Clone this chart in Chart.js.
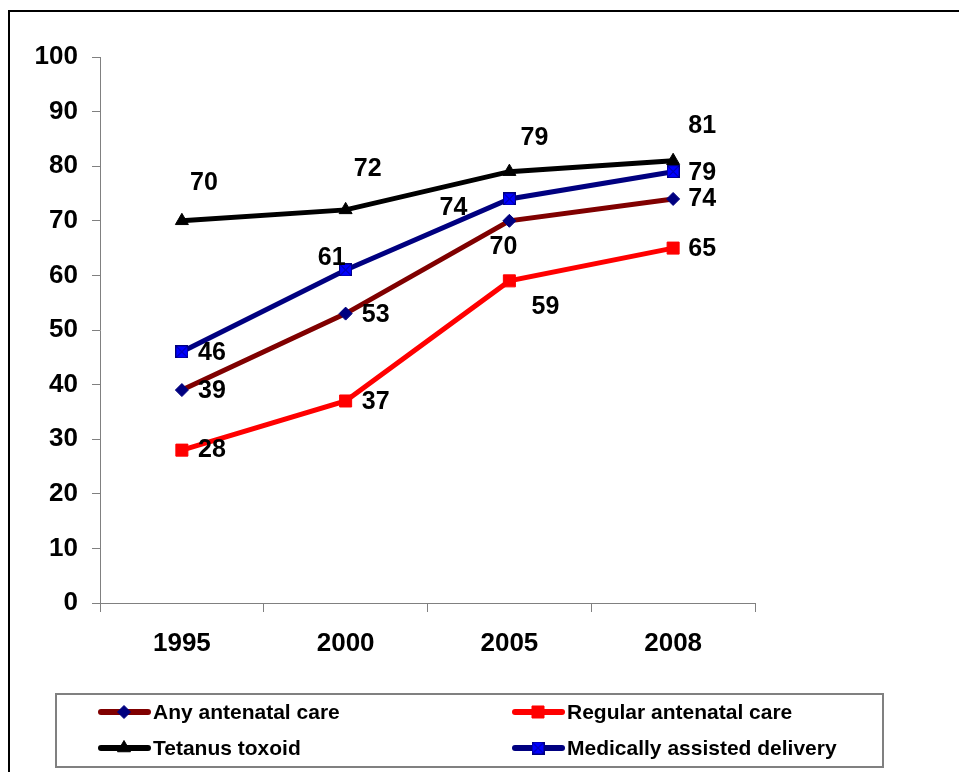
<!DOCTYPE html>
<html>
<head>
<meta charset="utf-8">
<script src="https://cdn.jsdelivr.net/npm/chart.js@4/dist/chart.umd.min.js"></script>
<style>
  html, body { margin: 0; padding: 0; background: #fff; }
  #chart { display: block; }
</style>
</head>
<body>
<canvas id="chart" width="959" height="772"></canvas>
<script>
// Survey years and coverage (%) for each maternal-health indicator
const years = ['1995', '2000', '2005', '2008'];
const anyAntenatal = [39, 53, 70, 74];
const regularAntenatal = [28, 37, 59, 65];
const tetanusToxoid = [70, 72, 79, 81];
const assistedDelivery = [46, 61, 74, 79];
const yTickValues = [0, 10, 20, 30, 40, 50, 60, 70, 80, 90, 100];

// Where each value label sits relative to its point (pixels)
const labelOffsets = [
  [[30, 0], [30, 0], [-6, 25], [29, -1]],
  [[30, -1], [30, 0], [36, 25], [29, 0]],
  [[22, -39], [22, -42], [25, -35], [29, -36]],
  [[30, 0], [-14, -13], [-56, 8], [29, 0]]
];

const FONT = '"Liberation Sans", Arial, Helvetica, sans-serif';

// Blue square marker with a dark cross
function crossedSquare(size) {
  const c = document.createElement('canvas');
  c.width = size; c.height = size;
  const g = c.getContext('2d');
  g.fillStyle = '#0000FF';
  g.fillRect(0, 0, size, size);
  g.strokeStyle = '#000080';
  g.lineWidth = 1;
  g.strokeRect(0.5, 0.5, size - 1, size - 1);
  g.beginPath();
  g.moveTo(1, 1); g.lineTo(size - 1, size - 1);
  g.moveTo(size - 1, 1); g.lineTo(1, size - 1);
  g.stroke();
  return c;
}
const deliveryMarker = crossedSquare(13);

const datasets = [
  {
    label: 'Any antenatal care', data: anyAntenatal,
    borderColor: '#800000', borderWidth: 5,
    pointStyle: 'rectRot', pointRadius: 6.5, pointBorderWidth: 1,
    pointBackgroundColor: '#000080', pointBorderColor: '#000080', order: 3
  },
  {
    label: 'Regular antenatal care', data: regularAntenatal,
    borderColor: '#FF0000', borderWidth: 5,
    pointStyle: 'rect', pointRadius: 8.5, pointBorderWidth: 1,
    pointBackgroundColor: '#FF0000', pointBorderColor: '#FF0000', order: 4
  },
  {
    label: 'Tetanus toxoid', data: tetanusToxoid,
    borderColor: '#000000', borderWidth: 5,
    pointStyle: 'triangle', pointRadius: 7.5, pointBorderWidth: 1,
    pointBackgroundColor: '#000000', pointBorderColor: '#000000', order: 2
  },
  {
    label: 'Medically assisted delivery', data: assistedDelivery,
    borderColor: '#000080', borderWidth: 5,
    pointStyle: deliveryMarker, pointRadius: 7, pointBorderWidth: 0,
    pointBackgroundColor: '#0000FF', pointBorderColor: '#000080', order: 1
  }
];
datasets.forEach(d => { d.tension = 0; d.fill = false; d.pointHoverRadius = d.pointRadius; });

// Outer frame, value labels and the boxed legend
const decorations = {
  id: 'decorations',
  beforeDraw(chart) {
    const ctx = chart.ctx;
    ctx.save();
    ctx.fillStyle = '#fff';
    ctx.fillRect(0, 0, chart.width, chart.height);
    ctx.strokeStyle = '#000';
    ctx.lineWidth = 2;
    ctx.strokeRect(9, 11, 970, 790);
    ctx.restore();
  },
  afterDatasetsDraw(chart) {
    const ctx = chart.ctx;
    ctx.save();
    ctx.font = 'bold 25px ' + FONT;
    ctx.fillStyle = '#000';
    ctx.textAlign = 'center';
    ctx.textBaseline = 'middle';
    chart.data.datasets.forEach((ds, i) => {
      const meta = chart.getDatasetMeta(i);
      meta.data.forEach((pt, j) => {
        const [dx, dy] = labelOffsets[i][j];
        ctx.fillText(String(ds.data[j]), pt.x + dx, pt.y + dy + 1);
      });
    });
    ctx.restore();
  },
  afterDraw(chart) {
    const ctx = chart.ctx;
    ctx.save();
    ctx.strokeStyle = '#808080';
    ctx.lineWidth = 2;
    ctx.strokeRect(56, 694, 827, 73);
    const cols = [98, 512];
    const rows = [712, 748];
    chart.data.datasets.forEach((ds, i) => {
      const x = cols[i % 2];
      const y = rows[Math.floor(i / 2)];
      ctx.strokeStyle = ds.borderColor;
      ctx.lineWidth = 6;
      ctx.lineCap = 'round';
      ctx.beginPath();
      ctx.moveTo(x + 3, y);
      ctx.lineTo(x + 50, y);
      ctx.stroke();
      ctx.fillStyle = ds.pointBackgroundColor;
      ctx.strokeStyle = ds.pointBorderColor;
      ctx.lineWidth = ds.pointBorderWidth || 1;
      ctx.lineCap = 'butt';
      Chart.helpers.drawPoint(ctx, {
        pointStyle: ds.pointStyle, radius: ds.pointRadius,
        rotation: 0, borderWidth: ds.pointBorderWidth
      }, x + 26, y);
      ctx.fillStyle = '#000';
      ctx.font = 'bold 21px ' + FONT;
      ctx.textAlign = 'left';
      ctx.textBaseline = 'middle';
      ctx.fillText(ds.label, x + 55, y + 1);
    });
    ctx.restore();
  }
};

new Chart(document.getElementById('chart'), {
  type: 'line',
  data: { labels: years, datasets },
  options: {
    responsive: false,
    animation: false,
    layout: { padding: { left: 0, right: 204, top: 57, bottom: 0 } },
    plugins: { legend: { display: false }, tooltip: { enabled: false } },
    scales: {
      x: {
        type: 'category',
        offset: true,
        grid: { offset: true, drawOnChartArea: false, drawTicks: true, tickLength: 9, color: '#808080' },
        border: { display: true, color: '#808080', width: 1 },
        ticks: { font: { family: FONT, size: 26, weight: 'bold' }, color: '#000', padding: 16, maxRotation: 0 },
        afterFit(scale) { scale.height = 169; }
      },
      y: {
        min: 0, max: 100,
        afterBuildTicks(scale) { scale.ticks = yTickValues.map(v => ({ value: v })); },
        grid: { drawOnChartArea: false, drawTicks: true, tickLength: 8, color: '#808080' },
        border: { display: true, color: '#808080', width: 1 },
        ticks: { font: { family: FONT, size: 26, weight: 'bold' }, color: '#000', padding: 14 },
        afterFit(scale) { scale.width = 100; }
      }
    }
  },
  plugins: [decorations]
});
</script>
</body>
</html>
